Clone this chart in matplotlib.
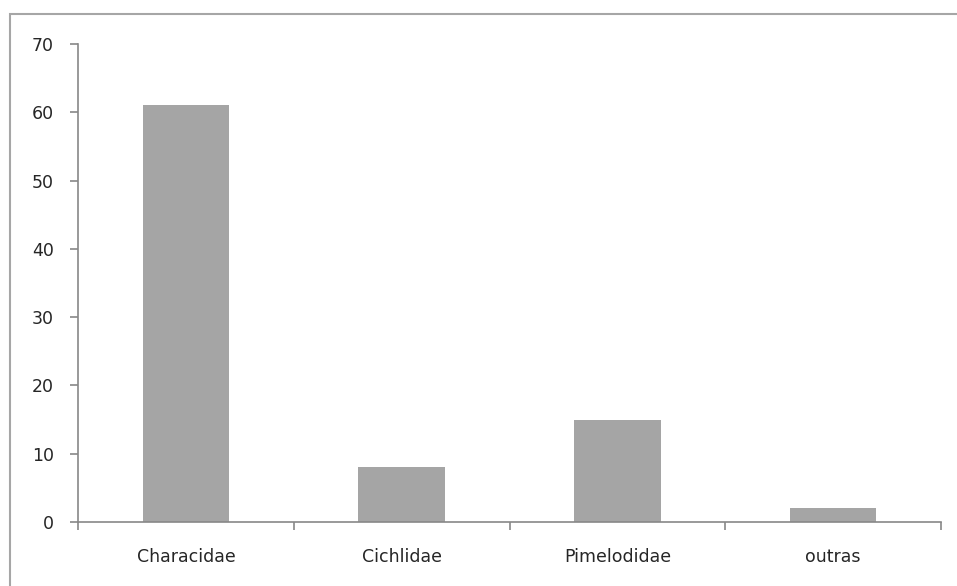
import matplotlib.pyplot as plt
from matplotlib.patches import Rectangle
import numpy as np

families = ['Characidae', 'Cichlidae', 'Pimelodidae', 'outras']
counts = [61, 8, 15, 2]

plt.rcParams['font.family'] = ['DejaVu Sans']

fig = plt.figure(figsize=(9.57, 5.86), dpi=100)
ax = fig.add_axes([78 / 957, 64 / 586, 863 / 957, 478 / 586])

x = np.arange(len(families))
ax.bar(x, counts, width=0.4, color='#A5A5A5', zorder=2)

ax.set_xlim(-0.5, len(families) - 0.5)
ax.set_ylim(0, 70)
ax.set_yticks(range(0, 71, 10))

# category labels centered, tick marks on the boundaries
ax.set_xticks(x)
ax.set_xticklabels(families)
ax.set_xticks(np.arange(-0.5, len(families), 1), minor=True)
ax.tick_params(axis='x', which='major', length=0, pad=19, labelsize=12.5, labelcolor='#262626')
ax.tick_params(axis='x', which='minor', length=5.5, color='#888888', width=1.2, direction='out')
ax.tick_params(axis='y', length=5.5, color='#888888', width=1.2, direction='out', labelsize=12.5,
               labelcolor='#262626', pad=12)

for s in ['top', 'right']:
    ax.spines[s].set_visible(False)
for s in ['left', 'bottom']:
    ax.spines[s].set_color('#888888')
    ax.spines[s].set_linewidth(1.2)

# chart area border
fig.patches.append(Rectangle((10 / 957, -0.05), 960 / 957, 1.05 - 14 / 586,
                             transform=fig.transFigure, fill=False,
                             edgecolor='#A6A6A6', linewidth=1.5))

plt.savefig('out.png', dpi=100)
